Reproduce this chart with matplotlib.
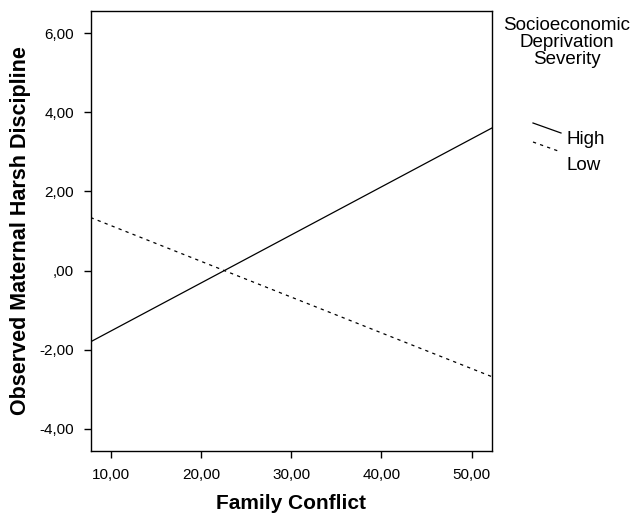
import matplotlib
matplotlib.use("Agg")
import matplotlib.pyplot as plt
from matplotlib.lines import Line2D
from matplotlib.ticker import FuncFormatter

# ── Data (fitted lines) ────────────────────────────────────────────────────
conflict = [7.8, 52.2]
high_severity = [-1.80, 3.60]
low_severity = [1.34, -2.68]

x_ticks = [10, 20, 30, 40, 50]
y_ticks = [-4, -2, 0, 2, 4, 6]

legend_title = "Socioeconomic\nDeprivation\nSeverity"
legend_labels = ["High", "Low"]

plt.rcParams["font.family"] = ["Liberation Sans", "DejaVu Sans"]


def comma_fmt(v, pos):
    s = f"{v:.2f}".replace(".", ",")
    # SPSS drops the leading zero: 0.00 -> ,00
    if s.startswith("0,"):
        s = s[1:]
    return s


fig = plt.figure(figsize=(6.34, 5.17), dpi=100)
ax = fig.add_axes([0.143, 0.1277, 0.6325, 0.851])

dash = (0, (2.6, 3.4))
ax.plot(conflict, high_severity, color="black", lw=0.9)
ax.plot(conflict, low_severity, color="black", lw=0.9, linestyle=dash)

ax.set_xlim(7.8, 52.2)
ax.set_ylim(-4.56, 6.56)
ax.set_xticks(x_ticks)
ax.set_yticks(y_ticks)
ax.xaxis.set_major_formatter(FuncFormatter(comma_fmt))
ax.yaxis.set_major_formatter(FuncFormatter(comma_fmt))
ax.tick_params(direction="out", length=5, width=1, labelsize=11, pad=7)

for sp in ax.spines.values():
    sp.set_linewidth(1)

ax.set_xlabel("Family Conflict", fontsize=15, fontweight="bold", labelpad=9)
ax.set_ylabel("Observed Maternal Harsh Discipline", fontsize=15.5,
              fontweight="bold", labelpad=6)

# ── Legend (SPSS style: short sloped line samples) ─────────────────────────
W, H = 634, 517
fig.text(567 / W, 1 - 17 / H, legend_title, ha="center", va="top",
         fontsize=13.5, linespacing=1.0)

styles = ["-", dash]
line_y = [123, 142]
text_y = [139, 165]
for lab, ls, y0, ty in zip(legend_labels, styles, line_y, text_y):
    fig.add_artist(Line2D([533 / W, 561 / W], [1 - y0 / H, 1 - (y0 + 10) / H],
                          color="black", lw=0.9, linestyle=ls,
                          transform=fig.transFigure))
    fig.text(566 / W, 1 - ty / H, lab, ha="left", va="center",
             fontsize=13.5)

fig.savefig("out.png", dpi=100, facecolor="white")
